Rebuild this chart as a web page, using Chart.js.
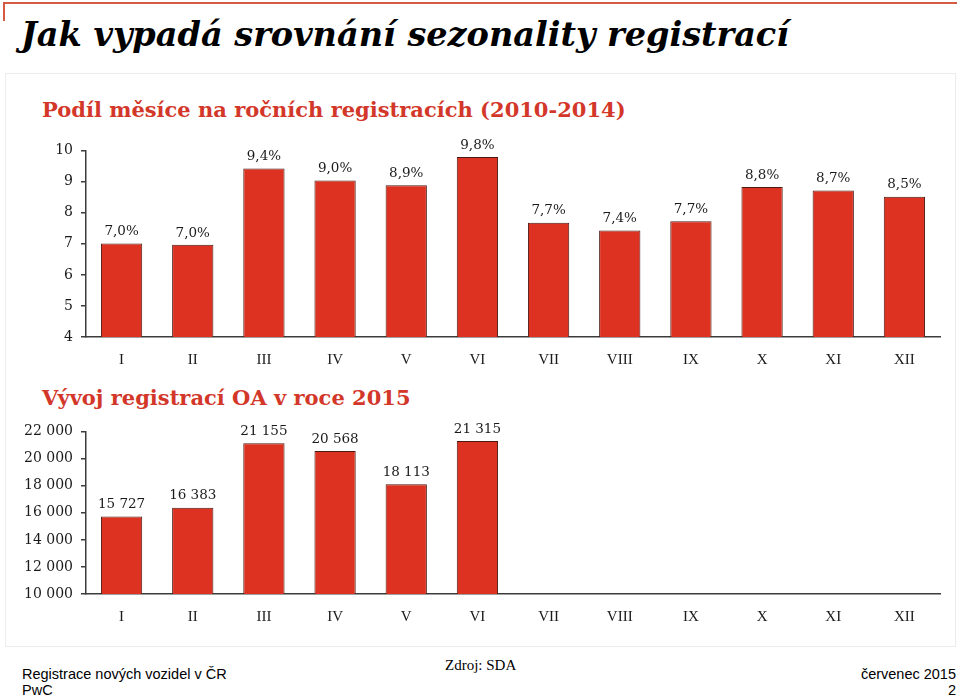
<!DOCTYPE html>
<html lang="cs">
<head>
<meta charset="utf-8">
<title>Jak vypadá srovnání sezonality registrací</title>
<script src="https://cdn.jsdelivr.net/npm/chart.js@4"></script>
<style>
  html, body { margin: 0; padding: 0; background: #fff; }
  body { width: 960px; height: 697px; position: relative; overflow: hidden; }
  .abs { position: absolute; white-space: nowrap; }
  #topline { left: 4px; top: 2px; width: 953px; height: 2px; background: #d65a42; }
  #topmark { left: 3px; top: 2px; width: 2px; height: 19px; background: #d65a42; }
  #title { left: 21px; top: 14px; font: italic bold 33.5px "DejaVu Serif", serif; color: #000; line-height: 42px; }
  #panel { left: 5px; top: 73px; width: 949px; height: 572px; border: 1px solid #ececec; }
  .sub { font: bold 21px "DejaVu Serif", serif; color: #d3372a; line-height: 26px; }
  #sub1 { left: 42px; top: 97px; }
  #sub2 { left: 42px; top: 385px; }
  canvas { position: absolute; left: 0; }
  #shareChart { top: 130px; }
  #regChart { top: 400px; }
  .foot { font: 14.5px "Liberation Sans", Arial, sans-serif; color: #000; line-height: 16px; }
  .src { font: 15px "Liberation Serif", serif; color: #000; line-height: 16px; }
</style>
</head>
<body>
<div id="topline" class="abs"></div>
<div id="topmark" class="abs"></div>
<div id="title" class="abs">Jak vypadá srovnání sezonality registrací</div>
<div id="panel" class="abs"></div>
<div id="sub1" class="abs sub">Podíl měsíce na ročních registracích (2010-2014)</div>
<div id="sub2" class="abs sub">Vývoj registrací OA v roce 2015</div>
<canvas id="shareChart" width="960" height="250"></canvas>
<canvas id="regChart" width="960" height="245"></canvas>
<div class="abs foot" style="left:22px; top:666px;">Registrace nových vozidel v ČR</div>
<div class="abs foot" style="left:22px; top:682px;">PwC</div>
<div class="abs src" style="left:445px; top:657px;">Zdroj: SDA</div>
<div class="abs foot" style="right:4px; top:666px; text-align:right;">červenec 2015</div>
<div class="abs foot" style="right:4px; top:682px; text-align:right;">2</div>

<script>
// Data
const months = ['I', 'II', 'III', 'IV', 'V', 'VI', 'VII', 'VIII', 'IX', 'X', 'XI', 'XII'];
const monthShare = [7.01, 6.97, 9.43, 9.04, 8.89, 9.80, 7.68, 7.43, 7.73, 8.83, 8.72, 8.52];
const shareAxis = { min: 4, max: 10, step: 1 };
const registrations2015 = [15727, 16383, 21155, 20568, 18113, 21315, null, null, null, null, null, null];
const regAxis = { min: 10000, max: 22000, step: 2000 };

const barRed = '#dd3222';
const barEdge = '#4a1a12';
const axisGrey = '#3c3c3c';
const serif = '"DejaVu Serif", serif';

const fmtShare = v => v.toFixed(1).replace('.', ',') + '%';
const fmtThousands = v => String(v).replace(/\B(?=(\d{3})+(?!\d))/g, ' ');

// popisky hodnot nad sloupci
function makeValueLabels(format, offset) {
  return {
    id: 'valueLabels',
    afterDatasetsDraw(chart) {
      const ctx = chart.ctx;
      const meta = chart.getDatasetMeta(0);
      const data = chart.data.datasets[0].data;
      ctx.save();
      ctx.font = '13.5px ' + serif;
      ctx.fillStyle = '#1a1a1a';
      ctx.textAlign = 'center';
      ctx.textBaseline = 'bottom';
      meta.data.forEach((bar, i) => {
        if (data[i] == null) return;
        ctx.fillText(format(data[i]), bar.x, bar.y - offset);
      });
      ctx.restore();
    }
  };
}

function barConfig(values, axis, tickFormat, padTop, xHeight, labelPlugin) {
  return {
    type: 'bar',
    data: {
      labels: months,
      datasets: [{
        data: values,
        backgroundColor: barRed,
        borderColor: barEdge,
        borderWidth: 1,
        barPercentage: 0.58,
        categoryPercentage: 1
      }]
    },
    options: {
      responsive: false,
      animation: false,
      layout: { padding: { top: padTop, right: 20, left: 0, bottom: 0 } },
      plugins: { legend: { display: false }, tooltip: { enabled: false } },
      scales: {
        x: {
          grid: { display: false, drawTicks: false },
          border: { display: true, color: axisGrey, width: 1.5 },
          ticks: { color: '#1a1a1a', padding: 14, font: { family: '"Liberation Serif", serif', size: 15 } },
          afterFit: s => { s.height = xHeight; }
        },
        y: {
          min: axis.min,
          max: axis.max,
          grid: { display: true, drawOnChartArea: false, drawTicks: true, tickLength: 5, color: axisGrey, lineWidth: 1.5 },
          border: { display: true, color: axisGrey, width: 1.5 },
          ticks: { stepSize: axis.step, color: '#1a1a1a', padding: 8, font: { family: serif, size: 14 }, callback: tickFormat },
          afterFit: s => { s.width = 86; }
        }
      }
    },
    plugins: [labelPlugin]
  };
}

new Chart(document.getElementById('shareChart'),
  barConfig(monthShare, shareAxis, v => v, 20.7, 43, makeValueLabels(fmtShare, 5)));

new Chart(document.getElementById('regChart'),
  barConfig(registrations2015, regAxis, v => fmtThousands(v), 31.7, 51, makeValueLabels(fmtThousands, 5)));
</script>
</body>
</html>
